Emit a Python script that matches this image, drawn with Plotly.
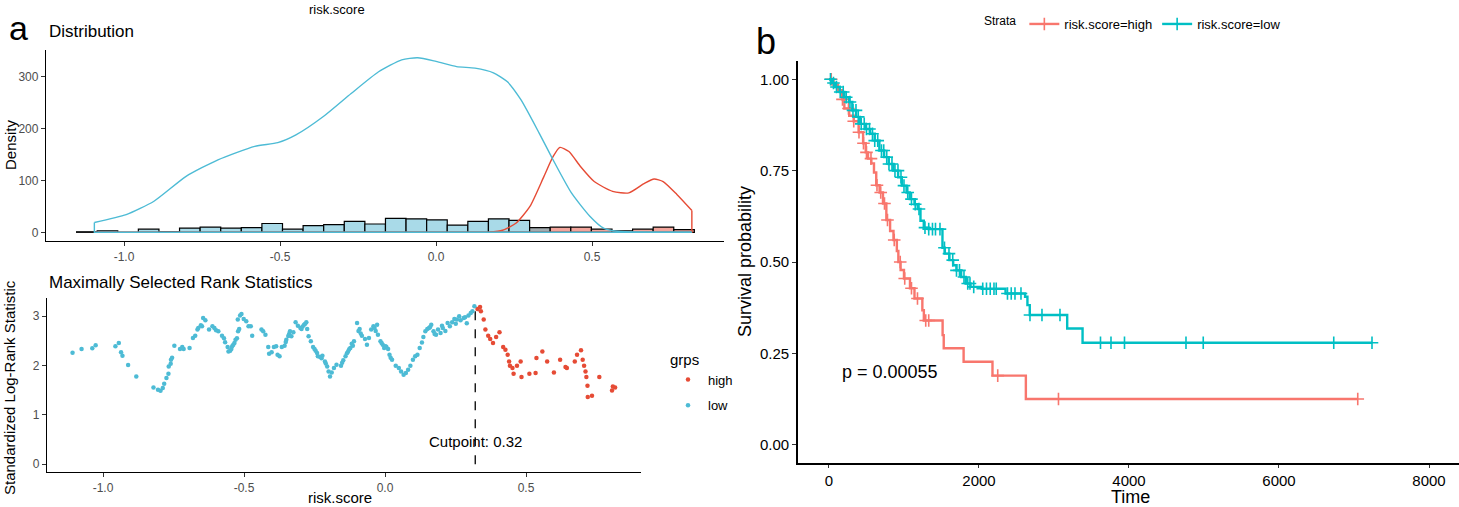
import numpy as np
import plotly.graph_objects as go

W, H = 1459, 507
FONT = "Liberation Sans, Arial, sans-serif"


def fx(p):
    return p / W


def fy(p):
    return 1 - p / H


# ---------------- Panel a, top: distribution ----------------
hist_start = -1.152
bin_width = 0.066
hist_counts = [1, 3, 0, 6, 1, 8, 10, 8, 9, 17, 6, 13, 15, 21, 16, 27, 26, 24, 14, 21,
               26, 23, 9, 10, 10, 6, 3, 6, 10, 5]
hist_group = ["low"] * 22 + ["mixed"] + ["high"] * 7

low_density_x = [-1.095, -0.993, -0.904, -0.801, -0.699, -0.581, -0.507, -0.449, -0.360,
                 -0.272, -0.184, -0.110, -0.059, 0.0, 0.066, 0.125, 0.184, 0.228, 0.272,
                 0.331, 0.375, 0.434, 0.493, 0.537, 0.581, 0.82]
low_density_y = [19, 34, 60, 108, 140, 166, 173, 188, 224, 268, 310, 333, 337, 330, 320,
                 317, 308, 291, 256, 191, 140, 76, 31, 8, 2, 0]
high_density_x = [0.169, 0.213, 0.257, 0.301, 0.346, 0.375, 0.397, 0.426, 0.463, 0.507,
                  0.566, 0.618, 0.669, 0.699, 0.728, 0.772, 0.82]
high_density_y = [0, 4, 18, 50, 108, 146, 164, 156, 127, 98, 79, 76, 95, 103, 98, 73, 42]

# ---------------- Panel a, bottom: maximally selected rank statistics ----------------
low_score = [-1.108, -1.076, -1.038, -1.026, -0.956, -0.944, -0.936, -0.931, -0.911, -0.882,
             -0.821, -0.805, -0.796, -0.788, -0.783, -0.775, -0.768, -0.767, -0.760, -0.759,
             -0.755, -0.747, -0.727, -0.719, -0.714, -0.693, -0.681, -0.673, -0.665, -0.649,
             -0.645, -0.637, -0.624, -0.612, -0.599, -0.591, -0.578, -0.571, -0.567, -0.558,
             -0.555, -0.545, -0.542, -0.534, -0.530, -0.525, -0.521, -0.517, -0.522, -0.514,
             -0.509, -0.501, -0.484, -0.476, -0.471, -0.438, -0.432, -0.424, -0.414, -0.411,
             -0.402, -0.394, -0.386, -0.381, -0.374, -0.366, -0.356, -0.350, -0.340, -0.337,
             -0.332, -0.325, -0.317, -0.309, -0.300, -0.296, -0.287, -0.279, -0.271, -0.263,
             -0.255, -0.250, -0.241, -0.238, -0.230, -0.222, -0.213, -0.205, -0.200, -0.195,
             -0.189, -0.181, -0.172, -0.156, -0.148, -0.140, -0.131, -0.123, -0.118, -0.110,
             -0.099, -0.090, -0.082, -0.071, -0.064, -0.057, -0.049, -0.041, -0.028, -0.025,
             -0.016, -0.008, -0.003, 0.005, 0.011, 0.016, 0.025, 0.038, 0.049, 0.057,
             0.066, 0.074, 0.082, 0.090, 0.099, 0.107, 0.115, 0.123, 0.136, 0.143,
             0.156, 0.164, 0.172, 0.181, 0.197, 0.205, 0.222, 0.230, 0.246, 0.255,
             0.263, 0.279, 0.296, 0.304, 0.317,
             -0.352, -0.343, -0.292, -0.283, -0.276, -0.246, -0.225, -0.210, -0.152, -0.135,
             -0.127, -0.114, -0.094, -0.086, -0.037, -0.033, -0.012, 0.002, 0.020, 0.131,
             0.150, 0.160, 0.176, 0.188, 0.202, 0.214, 0.238, 0.251, 0.268, 0.284, 0.290,
             0.310, -0.662, -0.653, -0.605, -0.549, -0.538, -0.492]
low_stat = [2.261, 2.336, 2.349, 2.410, 2.390, 2.458, 2.268, 2.200, 2.011, 1.781,
            1.557, 1.510, 1.490, 1.544, 1.632, 1.747, 1.835, 1.984, 2.038, 2.119,
            2.160, 2.404, 2.336, 2.376, 2.336, 2.356, 2.559, 2.607, 2.729, 2.796,
            2.966, 2.918, 2.729, 2.796, 2.715, 2.695, 2.607, 2.552, 2.471, 2.376,
            2.288, 2.336, 2.390, 2.458, 2.525, 2.552, 2.695, 2.742, 2.932, 3.013,
            3.047, 2.945, 2.796, 2.796, 2.607, 2.729, 2.695, 2.627, 2.376, 2.241,
            2.268, 2.376, 2.390, 2.221, 2.187, 2.376, 2.404, 2.525, 2.640, 2.695,
            2.593, 2.674, 2.877, 2.810, 2.762, 2.742, 2.830, 2.877, 2.593, 2.492,
            2.376, 2.336, 2.255, 2.187, 2.173, 2.200, 2.085, 1.984, 1.882, 1.781,
            1.862, 1.950, 2.018, 1.997, 2.106, 2.187, 2.288, 2.356, 2.444, 2.492,
            2.864, 2.742, 2.607, 2.539, 2.424, 2.559, 2.729, 2.796, 2.830, 2.627,
            2.492, 2.424, 2.356, 2.376, 2.336, 2.221, 2.119, 1.997, 1.950, 1.882,
            1.815, 1.848, 1.916, 1.997, 2.119, 2.187, 2.221, 2.356, 2.580, 2.695,
            2.762, 2.830, 2.695, 2.627, 2.661, 2.762, 2.864, 2.796, 2.945, 2.932,
            2.999, 2.966, 3.013, 3.067, 3.202,
            2.480, 2.600, 2.790, 2.850, 2.740, 2.300, 2.150, 2.040, 2.060, 2.250,
            2.330, 2.400, 2.700, 2.650, 2.760, 2.700, 2.460, 2.390, 2.160, 2.470,
            2.740, 2.780, 2.640, 2.730, 2.810, 2.700, 2.880, 2.850, 2.920, 2.980, 2.860,
            3.100, 2.760, 2.820, 2.760, 2.300, 2.420, 2.900]
high_score = [0.328, 0.337, 0.340, 0.350, 0.356, 0.366, 0.373, 0.383, 0.394, 0.406,
              0.419, 0.427, 0.435, 0.440, 0.443, 0.452, 0.456, 0.468, 0.481, 0.484,
              0.512, 0.534, 0.537, 0.558, 0.575, 0.599, 0.621, 0.640, 0.645, 0.673,
              0.681, 0.695, 0.701, 0.706, 0.711, 0.714, 0.718, 0.719, 0.734, 0.760,
              0.805, 0.808, 0.816]
high_stat = [3.148, 3.189, 3.101, 2.932, 2.729, 2.607, 2.539, 2.458, 2.580, 2.674,
             2.376, 2.322, 2.221, 2.085, 1.997, 1.950, 1.835, 1.997, 2.085, 1.767,
             1.835, 1.848, 2.153, 2.288, 2.085, 1.862, 2.119, 1.970, 1.950, 2.085,
             2.221, 2.309, 2.119, 1.997, 1.882, 1.767, 1.591, 1.361, 1.388, 1.767,
             1.496, 1.578, 1.557]
cutpoint = 0.32
cut_stat_max = 3.2

# ---------------- Panel b: Kaplan-Meier ----------------
high_step_t = [0, 60, 120, 175, 205, 270, 330, 395, 455, 490, 520, 565, 600, 630, 675, 720,
               765, 815, 860, 905, 925, 955, 1000, 1080, 1140, 1245, 1265, 1515, 1530, 1795,
               2180, 2625, 7050]
high_step_s = [1.0, 0.985, 0.97, 0.945, 0.92, 0.90, 0.885, 0.855, 0.825, 0.80, 0.783, 0.77,
               0.745, 0.71, 0.69, 0.66, 0.615, 0.585, 0.56, 0.53, 0.50, 0.478, 0.455, 0.428,
               0.40, 0.368, 0.34, 0.30, 0.264, 0.227, 0.189, 0.125, 0.125]
high_censor_t = [30, 180, 260, 330, 400, 460, 500, 560, 640, 690, 740, 780, 870, 950, 1010,
                 1100, 1180, 1290, 1330, 2250, 3060, 7050]

low_step_t = [0, 40, 81, 143, 205, 268, 311, 361, 411, 486, 548, 610, 672, 735, 797, 859,
              922, 971, 1034, 1077, 1140, 1183, 1220, 1264, 1326, 1513, 1544, 1606, 1656,
              1700, 1762, 1824, 1887, 2042, 2354, 2615, 2646, 2677, 3176, 3381, 7240]
low_step_s = [1.0, 0.99, 0.979, 0.965, 0.951, 0.938, 0.915, 0.897, 0.878, 0.864, 0.851,
              0.832, 0.805, 0.787, 0.768, 0.75, 0.732, 0.709, 0.69, 0.672, 0.658, 0.645,
              0.613, 0.594, 0.59, 0.539, 0.523, 0.505, 0.491, 0.477, 0.459, 0.441, 0.432,
              0.427, 0.414, 0.405, 0.382, 0.355, 0.318, 0.279, 0.279]
low_censor_t = [20, 60, 100, 150, 190, 230, 280, 320, 360, 390, 430, 470, 500, 540, 580, 610,
                650, 700, 730, 770, 800, 840, 880, 920, 960, 1000, 1050, 1100, 1150, 1200,
                1280, 1330, 1380, 1420, 1480, 1540, 1600, 1650, 1700, 1740, 1800, 1850, 1880,
                1930, 2050, 2100, 2150, 2200, 2230, 2380, 2430, 2480, 2560, 2680, 2840, 3080,
                3620, 3760, 3940, 4760, 4990, 6730, 7240]
p_value_text = "p = 0.00055"

# ---------------- colours ----------------
C_LOW = "#4DBBD5"
C_HIGH = "#E64B35"
FILL = {"low": "#A9DAE8", "mixed": "#A3ABAF", "high": "#F3A59C"}
KM_HIGH = "#F8766D"
KM_LOW = "#00BFC4"

fig = go.Figure()

# histogram bars
centers = [hist_start + bin_width * (i + 0.5) for i in range(len(hist_counts))]
fig.add_trace(go.Bar(x=centers, y=hist_counts, width=bin_width,
                     marker=dict(color=[FILL[g] for g in hist_group],
                                 line=dict(color="black", width=1.2)),
                     xaxis="x", yaxis="y", showlegend=False))


def density_traces(xs, ys, color, x0):
    xe, ye = xs[-1], ys[-1]
    fig.add_trace(go.Scatter(x=[xe, xe, x0, x0], y=[ye, 0, 0, ys[0] if xs[0] == x0 else 0],
                             mode="lines", line=dict(color=color, width=1.4),
                             xaxis="x", yaxis="y", showlegend=False))
    fig.add_trace(go.Scatter(x=xs, y=ys, mode="lines",
                             line=dict(color=color, width=1.4, shape="spline", smoothing=0.6),
                             xaxis="x", yaxis="y", showlegend=False))


density_traces(high_density_x, high_density_y, C_HIGH, low_density_x[0])
density_traces(low_density_x, low_density_y, C_LOW, low_density_x[0])

# rank statistics scatter
fig.add_trace(go.Scatter(x=[cutpoint, cutpoint], y=[0, cut_stat_max], mode="lines",
                         line=dict(color="black", width=1.3, dash="dash"),
                         xaxis="x2", yaxis="y2", showlegend=False))
fig.add_trace(go.Scatter(x=high_score, y=high_stat, mode="markers", name="high",
                         marker=dict(color=C_HIGH, size=4.5), xaxis="x2", yaxis="y2",
                         legend="legend", legendgroup="h"))
fig.add_trace(go.Scatter(x=low_score, y=low_stat, mode="markers", name="low",
                         marker=dict(color=C_LOW, size=4.5), xaxis="x2", yaxis="y2",
                         legend="legend", legendgroup="l"))


# KM curves
def surv_at(ts, ss, t):
    idx = np.searchsorted(np.array(ts), np.array(t), side="right") - 1
    return [ss[i] for i in idx]


for ts, ss, cens, col, name in [(high_step_t, high_step_s, high_censor_t, KM_HIGH, "risk.score=high"),
                                 (low_step_t, low_step_s, low_censor_t, KM_LOW, "risk.score=low")]:
    fig.add_trace(go.Scatter(x=ts, y=ss, mode="lines", line=dict(color=col, width=2.4, shape="hv"),
                             xaxis="x3", yaxis="y3", showlegend=False))
    fig.add_trace(go.Scatter(x=cens, y=surv_at(ts, ss, cens), mode="markers",
                             marker=dict(symbol="cross-thin", size=9, line=dict(color=col, width=1.6)),
                             xaxis="x3", yaxis="y3", showlegend=False))
    fig.add_trace(go.Scatter(x=[None], y=[None], mode="lines+markers", name=name,
                             line=dict(color=col, width=2.4),
                             marker=dict(symbol="cross-thin", size=9, line=dict(color=col, width=1.6)),
                             xaxis="x3", yaxis="y3", legend="legend2"))

left_tick = dict(color="#4D4D4D", size=12, family=FONT)
axis_common = dict(showgrid=False, zeroline=False, showline=True, linecolor="black",
                   ticks="outside", tickcolor="#333333", tickwidth=1)

fig.update_layout(
    width=W, height=H, margin=dict(l=0, r=0, t=0, b=0),
    paper_bgcolor="white", plot_bgcolor="white",
    font=dict(family=FONT, color="black"),
    barmode="overlay",
    xaxis=dict(domain=[fx(46), fx(724)], range=[-1.25, 0.923], anchor="y", ticklen=4,
               tickvals=[-1.0, -0.5, 0.0, 0.5], ticktext=["-1.0", "-0.5", "0.0", "0.5"],
               tickfont=left_tick, linewidth=1.3, **axis_common),
    yaxis=dict(domain=[fy(241), fy(50)], range=[-16.8, 352], anchor="x", ticklen=4,
               tickvals=[0, 100, 200, 300], tickfont=left_tick, linewidth=1.3, **axis_common),
    xaxis2=dict(domain=[fx(47), fx(641)], range=[-1.1986, 0.9078], anchor="y2", ticklen=4,
                tickvals=[-1.0, -0.5, 0.0, 0.5], ticktext=["-1.0", "-0.5", "0.0", "0.5"],
                tickfont=left_tick, linewidth=1.3, **axis_common),
    yaxis2=dict(domain=[fy(472), fy(298)], range=[-0.157, 3.37], anchor="x2", ticklen=4,
                tickvals=[0, 1, 2, 3], tickfont=left_tick, linewidth=1.3, **axis_common),
    xaxis3=dict(domain=[fx(798), 1.0], range=[-413, 8400], anchor="y3", ticklen=3,
                tickvals=[0, 2000, 4000, 6000, 8000],
                tickfont=dict(size=15, color="black", family=FONT), linewidth=1.8, **axis_common),
    yaxis3=dict(domain=[fy(463), fy(61)], range=[-0.05, 1.05], anchor="x3", ticklen=4,
                tickvals=[0, 0.25, 0.5, 0.75, 1.0], ticktext=["0.00", "0.25", "0.50", "0.75", "1.00"],
                tickfont=dict(size=15, color="black", family=FONT), linewidth=1.8, **axis_common),
    legend=dict(x=fx(668), y=fy(345), xanchor="left", yanchor="top",
                title=dict(text="grps", font=dict(size=15)),
                font=dict(size=13), bgcolor="rgba(0,0,0,0)", tracegroupgap=6,
                itemwidth=30),
    legend2=dict(orientation="h", x=fx(982), y=fy(24), xanchor="left", yanchor="middle",
                 title=dict(text="Strata", font=dict(size=12), side="left"),
                 font=dict(size=13), bgcolor="rgba(0,0,0,0)", itemwidth=30),
)

ann = []


def add_text(text, x, y, size, xanchor="center", angle=0, color="black", xref="paper", yref="paper"):
    ann.append(dict(text=text, x=x, y=y, xref=xref, yref=yref, xanchor=xanchor, yanchor="middle",
                    showarrow=False, textangle=angle, font=dict(size=size, color=color, family=FONT)))


add_text("risk.score", fx(337), fy(10), 13)
add_text("a", fx(18), fy(28), 34)
add_text("Distribution", fx(47), fy(32), 17, xanchor="left")
add_text("Density", fx(10), fy(145), 15, angle=-90)
add_text("Maximally Selected Rank Statistics", fx(47), fy(282), 17, xanchor="left")
add_text("Standardized Log-Rank Statistic", fx(9), fy(388), 15, angle=-90)
add_text("risk.score", fx(340), fy(497), 15)
add_text("Cutpoint: " + str(cutpoint), cutpoint, 0.47, 15, xref="x2", yref="y2")
add_text("b", fx(766), fy(42), 36)
add_text("Survival probability", fx(745), fy(262), 18, angle=-90)
add_text("Time", fx(1130), fy(497), 18)
add_text(p_value_text, 145, 0.2, 18, xanchor="left", xref="x3", yref="y3")
fig.update_layout(annotations=ann)

fig.write_html("out.html", config={"displayModeBar": False},
               post_script="document.body.style.margin='0';document.body.style.overflow='hidden';")
